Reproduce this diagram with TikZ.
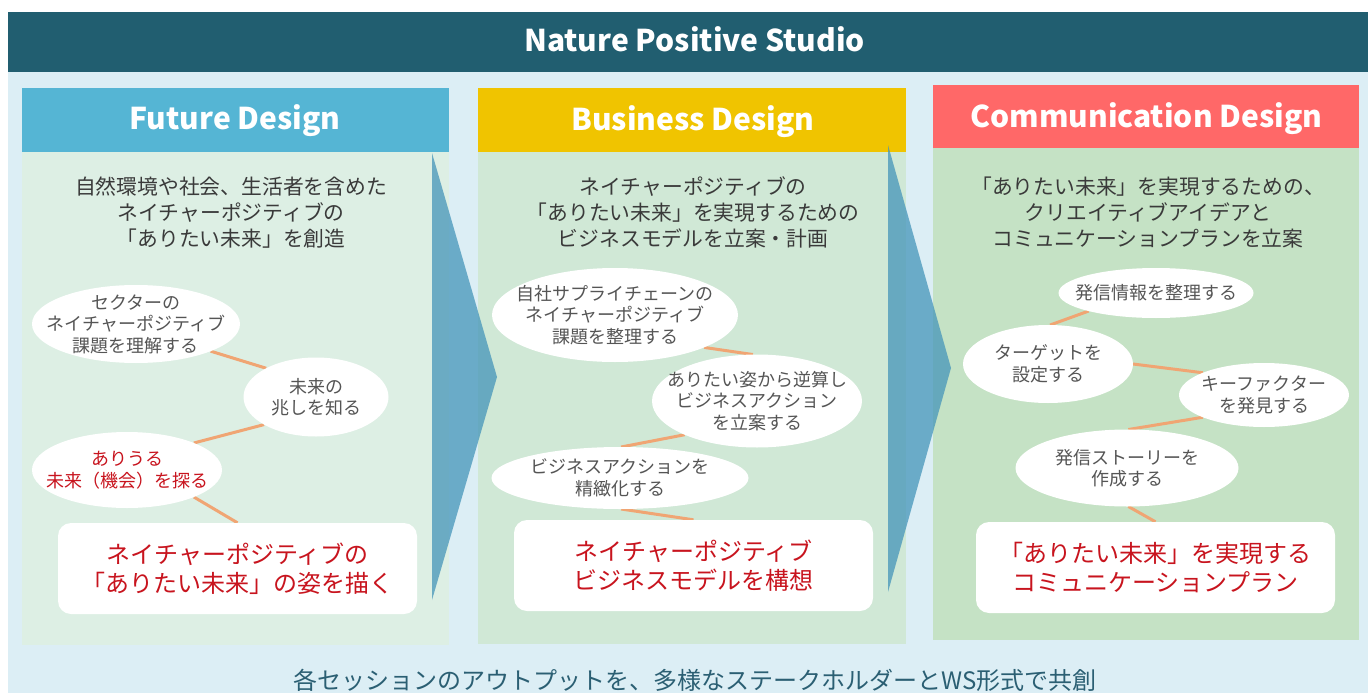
\documentclass[tikz,border=0pt]{standalone}
\usepackage{fontspec}
\setmainfont{Noto Sans CJK JP}
\usetikzlibrary{shapes.geometric}
\definecolor{pagebg}{HTML}{DCEEF5}
\definecolor{titlebar}{HTML}{215E70}
\definecolor{body1}{HTML}{DDEFE4}
\definecolor{body2}{HTML}{D0E8D6}
\definecolor{body3}{HTML}{C5E2C5}
\definecolor{fdblue}{HTML}{55B5D4}
\definecolor{bdgold}{HTML}{F0C400}
\definecolor{cdred}{HTML}{FF6868}
\definecolor{arrowblue}{HTML}{4595B9}
\definecolor{linkorange}{HTML}{F0A573}
\definecolor{subgray}{HTML}{3A3A3A}
\definecolor{ovalgray}{HTML}{555555}
\definecolor{outred}{HTML}{C8141E}
\definecolor{foottxt}{HTML}{2B5F73}
\pgfdeclarelayer{bg}
\pgfdeclarelayer{mid}
\pgfsetlayers{bg,mid,main}
\begin{document}
\begin{tikzpicture}[x=1pt,y=-1pt,
  block/.style={rectangle, inner sep=0pt, outer sep=0pt, draw=none},
  titletext/.style={text=white, font=\fontsize{30}{36}\selectfont\bfseries, inner sep=0pt},
  hdrtext/.style={text=white, font=\fontsize{30}{36}\selectfont\bfseries, inner sep=0pt},
  subtext/.style={text=subgray, align=center, inner sep=0pt, font=\fontsize{20.8}{26}\selectfont},
  oval/.style={ellipse, fill=white, inner sep=0pt, outer sep=0pt},
  ovaltext/.style={text=ovalgray, align=center, inner sep=0pt, font=\fontsize{18}{21.5}\selectfont},
  ovalred/.style={ovaltext, text=outred},
  outbox/.style={rectangle, fill=white, rounded corners=13pt, inner sep=0pt, text=outred, align=center, font=\fontsize{24}{28.5}\selectfont},
  conn/.style={draw=linkorange, line width=3pt},
  foottext/.style={text=foottxt, inner sep=0pt, font=\fontsize{24}{28}\selectfont}
]
\useasboundingbox (0,0) rectangle (1368,693);
\begin{pgfonlayer}{bg}
\fill[white] (0,0) rectangle (1368,693);
\node[block, fill=pagebg, minimum width=1360, minimum height=681] (frame) at (688,352.5) {};
\node[block, fill=titlebar, minimum width=1360, minimum height=60] (bar) at (688,42) {};
\node[block, fill=body1, minimum width=427, minimum height=493] (p1) at (235.5,398.5) {};
\node[block, fill=fdblue, minimum width=427, minimum height=64] (h1) at (235.5,120) {};
\node[block, fill=body2, minimum width=428, minimum height=492] (p2) at (692,398) {};
\node[block, fill=bdgold, minimum width=428, minimum height=64] (h2) at (692,120) {};
\node[block, fill=body3, minimum width=426, minimum height=492] (p3) at (1146,394) {};
\node[block, fill=cdred, minimum width=426, minimum height=63] (h3) at (1146,116.5) {};
\fill[arrowblue, opacity=.75] (432,153) -- (497,377) -- (432,600) -- cycle;
\fill[arrowblue, opacity=.75] (888,145) -- (951,368) -- (888,592) -- cycle;
\end{pgfonlayer}

\node[titletext, anchor=base] (title) at (694.5,52) {Nature Positive Studio};
\node[hdrtext, anchor=base] (h1t) at (235,129) {Future Design};
\node[hdrtext, anchor=base] (h2t) at (693,130) {Business Design};
\node[hdrtext, anchor=base] (h3t) at (1146.5,127) {Communication Design};

\node[subtext] (s1) at (231,212.5) {自然環境や社会、生活者を含めた\\ネイチャーポジティブの\\「ありたい未来」を創造};
\node[subtext] (s2) at (693,212.5) {ネイチャーポジティブの\\「ありたい未来」を実現するための\\ビジネスモデルを立案・計画};
\node[subtext] (s3) at (1148,212.5) {「ありたい未来」を実現するための、\\クリエイティブアイデアと\\コミュニケーションプランを立案};

% Future Design
\node[oval, minimum width=208, minimum height=78] (e1) at (136,324) {};
\node[ovaltext] (e1t) at (e1) {セクターの\\ネイチャーポジティブ\\課題を理解する};
\node[oval, minimum width=145, minimum height=79] (e2) at (316,397) {};
\node[ovaltext] (e2t) at (e2) {未来の\\兆しを知る};
\node[oval, minimum width=190, minimum height=76] (e3) at (127,470) {};
\node[ovalred] (e3t) at (e3) {ありうる\\未来（機会）を探る};
\node[outbox, minimum width=359, minimum height=91] (b1) at (237.5,568.5) {ネイチャーポジティブの\\「ありたい未来」の姿を描く};

% Business Design
\node[oval, minimum width=246, minimum height=94] (f1) at (615,315) {};
\node[ovaltext] (f1t) at (f1) {自社サプライチェーンの\\ネイチャーポジティブ\\課題を整理する};
\node[oval, minimum width=210, minimum height=93] (f2) at (757,401) {};
\node[ovaltext] (f2t) at (f2) {ありたい姿から逆算し\\ビジネスアクション\\を立案する};
\node[oval, minimum width=257, minimum height=62] (f3) at (620,478) {};
\node[ovaltext] (f3t) at (f3) {ビジネスアクションを\\精緻化する};
\node[outbox, minimum width=359, minimum height=91] (b2) at (693.5,565.5) {ネイチャーポジティブ\\ビジネスモデルを構想};

% Communication Design
\node[oval, minimum width=195, minimum height=50] (g1) at (1156,293) {};
\node[ovaltext] (g1t) at (g1) {発信情報を整理する};
\node[oval, minimum width=170, minimum height=78] (g2) at (1048,364) {};
\node[ovaltext] (g2t) at (g2) {ターゲットを\\設定する};
\node[oval, minimum width=170, minimum height=64] (g3) at (1264,395) {};
\node[ovaltext] (g3t) at (g3) {キーファクター\\を発見する};
\node[oval, minimum width=223, minimum height=77] (g4) at (1127,468) {};
\node[ovaltext] (g4t) at (g4) {発信ストーリーを\\作成する};
\node[outbox, minimum width=359, minimum height=91] (b3) at (1155.5,567.5) {「ありたい未来」を実現する\\コミュニケーションプラン};

\node[foottext] (foot) at (695,680) {各セッションのアウトプットを、多様なステークホルダーとWS形式で共創};

\begin{pgfonlayer}{mid}
\draw[conn] (e1.-20) -- (e2.150);
\draw[conn] (e2.208) -- (e3.22);
\draw[conn] (e3.-22) -- (b1.north);
\draw[conn] (f1.-20) -- (f2.95);
\draw[conn] (f2.205) -- (f3.88);
\draw[conn] (f3.-88) -- (b2.north);
\draw[conn] (g1.195) -- (g2.87);
\draw[conn] (g2.0) -- (g3.160);
\draw[conn] (g3.200) -- (g4.88);
\draw[conn] (g4.-88) -- (b3.north);
\end{pgfonlayer}
\end{tikzpicture}
\end{document}
